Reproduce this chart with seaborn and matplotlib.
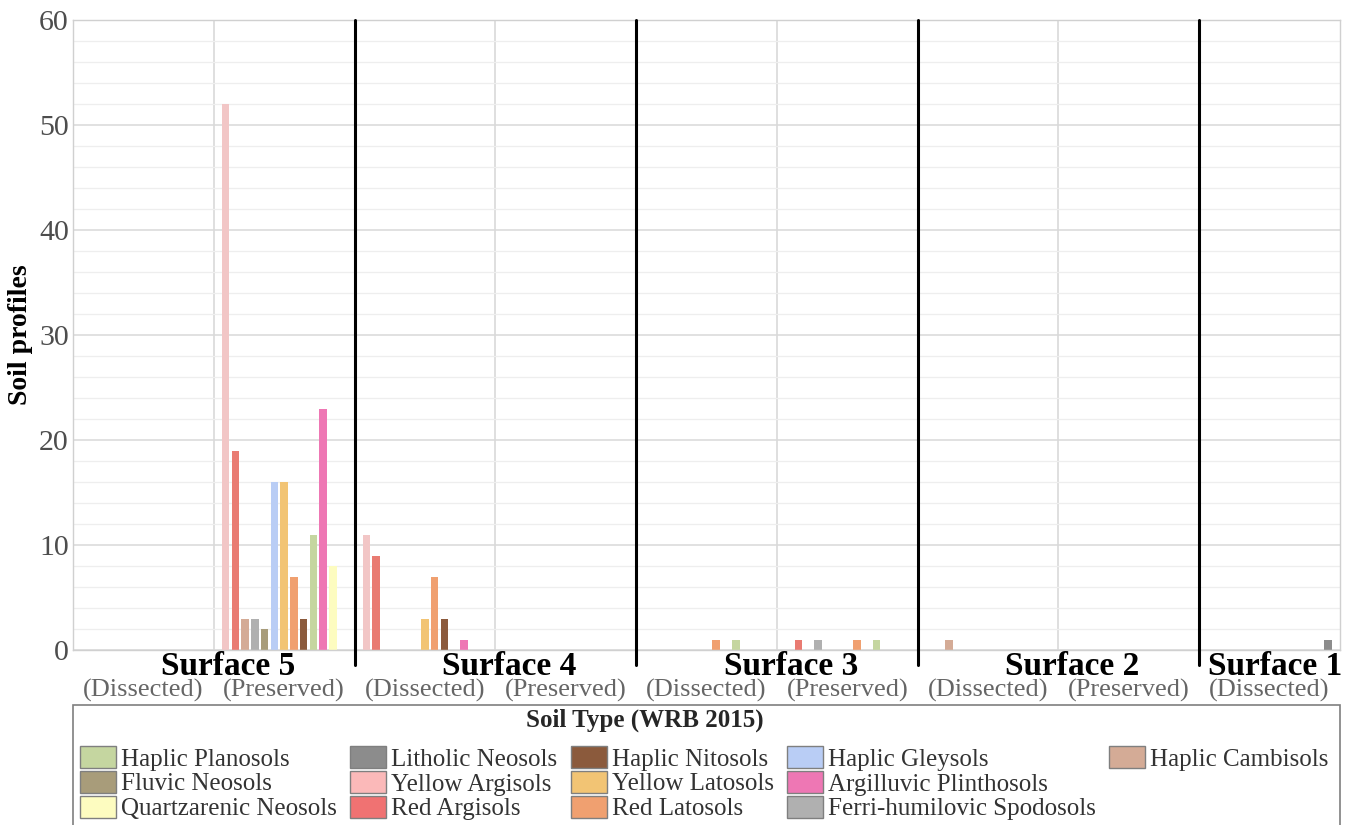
import matplotlib
matplotlib.use("Agg")
import matplotlib.pyplot as plt
from matplotlib.patches import Patch, Rectangle
from matplotlib.transforms import blended_transform_factory
import pandas as pd
import seaborn as sns

# x positions: landscape surface and its condition
surfaces = ["Surface 5", "Surface 5", "Surface 4", "Surface 4", "Surface 3",
            "Surface 3", "Surface 2", "Surface 2", "Surface 1"]
conditions = ["(Dissected)", "(Preserved)", "(Dissected)", "(Preserved)", "(Dissected)",
              "(Preserved)", "(Dissected)", "(Preserved)", "(Dissected)"]

# soil classes, in bar order within each position
soil_types = ["Yellow Argisols", "Red Argisols", "Haplic Cambisols", "Ferri-humilovic Spodosols",
              "Fluvic Neosols", "Haplic Gleysols", "Yellow Latosols", "Red Latosols",
              "Haplic Nitosols", "Haplic Planosols", "Argilluvic Plinthosols",
              "Quartzarenic Neosols", "Litholic Neosols"]
soil_colors = ["#f2c6c6", "#e97b72", "#d4ab96", "#b0b0b0",
               "#a89c7a", "#b9cdf5", "#f2c474", "#f0a070",
               "#8b5a3c", "#c5d6a0", "#ee77b4",
               "#fdfcc0", "#8c8c8c"]

# number of soil profiles per class (same order as soil_types)
s5_dissected = [0, 0, 0, 0, 0, 0, 0, 0, 0, 0, 0, 0, 0]
s5_preserved = [52, 19, 3, 3, 2, 16, 16, 7, 3, 11, 23, 8, 0]
s4_dissected = [11, 9, 0, 0, 0, 0, 3, 7, 3, 0, 1, 0, 0]
s4_preserved = [0, 0, 0, 0, 0, 0, 0, 0, 0, 0, 0, 0, 0]
s3_dissected = [0, 0, 0, 0, 0, 0, 0, 1, 0, 1, 0, 0, 0]
s3_preserved = [0, 1, 0, 1, 0, 0, 0, 1, 0, 1, 0, 0, 0]
s2_dissected = [0, 0, 1, 0, 0, 0, 0, 0, 0, 0, 0, 0, 0]
s2_preserved = [0, 0, 0, 0, 0, 0, 0, 0, 0, 0, 0, 0, 0]
s1_dissected = [0, 0, 0, 0, 0, 0, 0, 0, 0, 0, 0, 0, 1]

# legend entries, filled column by column
legend_order = ["Haplic Planosols", "Fluvic Neosols", "Quartzarenic Neosols",
                "Litholic Neosols", "Yellow Argisols", "Red Argisols",
                "Haplic Nitosols", "Yellow Latosols", "Red Latosols",
                "Haplic Gleysols", "Argilluvic Plinthosols", "Ferri-humilovic Spodosols",
                "Haplic Cambisols"]
legend_colors = {"Yellow Argisols": "#fbb9b9", "Red Argisols": "#f07272"}

positions = [f"{s} {c}" for s, c in zip(surfaces, conditions)]
counts = [s5_dissected, s5_preserved, s4_dissected, s4_preserved, s3_dissected,
          s3_preserved, s2_dissected, s2_preserved, s1_dissected]

rows = []
for pos, vals in zip(positions, counts):
    for soil, v in zip(soil_types, vals):
        rows.append({"position": pos, "soil": soil, "profiles": v})
df = pd.DataFrame(rows)

sns.set_style("white")
plt.rcParams["font.family"] = ["Liberation Serif", "DejaVu Serif"]

W, H = 1349, 825
fig = plt.figure(figsize=(W / 100, H / 100), dpi=100)
ax = fig.add_axes([73 / W, 1 - 650 / H, (1340 - 73) / W, (650 - 20) / H])

sns.barplot(data=df, x="position", y="profiles", hue="soil", order=positions,
            hue_order=soil_types, palette=dict(zip(soil_types, soil_colors)),
            saturation=1, width=0.9, gap=0.22, linewidth=0, errorbar=None,
            legend=False, ax=ax)

ax.set_xlim(-0.5, len(positions) - 0.5)
ax.set_ylim(0, 60)
ax.set_yticks(range(0, 61, 10))
ax.set_yticks(range(0, 61, 2), minor=True)
ax.yaxis.grid(True, which="major", color="#d9d9d9", linewidth=1.1)
ax.yaxis.grid(True, which="minor", color="#eeeeee", linewidth=0.9)
ax.xaxis.grid(False)
ax.set_axisbelow(True)
ax.tick_params(axis="y", which="both", length=0, pad=3, labelsize=21.5, labelcolor="#4d4d4d")
ax.tick_params(axis="x", which="both", length=0)
for sp in ax.spines.values():
    sp.set_color("#d0d0d0")
    sp.set_linewidth(1)

# thin lines between conditions, black lines between surfaces
for x in [0.5, 2.5, 4.5, 6.5]:
    ax.axvline(x, color="#d6d6d6", linewidth=1.1, zorder=0)
trans = blended_transform_factory(ax.transData, ax.transAxes)
for x in [1.5, 3.5, 5.5, 7.5]:
    ax.plot([x, x], [-0.024, 1.0], color="black", linewidth=2.2, transform=trans,
            clip_on=False, zorder=5)

# x labels: surface name (bold) and condition below
ax.set_xticks(range(len(positions)))
ax.set_xticklabels([])
ax.set_xlabel("")
group_centers = {}
for i, s in enumerate(surfaces):
    group_centers.setdefault(s, []).append(i)
for s, idx in group_centers.items():
    shift = 14 if len(idx) > 1 else 6
    ax.annotate(s, xy=(sum(idx) / len(idx), 0), xycoords=trans, xytext=(shift, -25),
                textcoords="offset pixels", ha="center", va="baseline",
                fontsize=24, fontweight="bold", color="black")
for i, c in enumerate(conditions):
    ax.annotate(c, xy=(i, 0), xycoords=trans, xytext=(0, -47),
                textcoords="offset pixels", ha="center", va="baseline",
                fontsize=19, color="#666666")

ax.set_ylabel("Soil profiles", fontsize=20, fontweight="bold", color="black")
ax.yaxis.set_label_coords(-40 / 1267, 0.5)

# legend box
fig.patches.append(Rectangle((73 / W, -0.05), (1340 - 73) / W, 1 - 705 / H + 0.05,
                             transform=fig.transFigure, facecolor="white",
                             edgecolor="#7f7f7f", linewidth=1.2))
fig.text(645 / W, 1 - 720 / H, "Soil Type (WRB 2015)", ha="center", va="center",
         fontsize=18, fontweight="bold")
color_of = dict(zip(soil_types, soil_colors))
color_of.update(legend_colors)
handles = [Patch(facecolor=color_of[s], edgecolor="#7f7f7f", linewidth=1, label=s)
           for s in legend_order]
labels = list(legend_order)
handles += [Patch(visible=False), Patch(visible=False)]
labels += ["", ""]
fig.legend(handles, labels, loc="upper left", bbox_to_anchor=(80 / W, 1 - 746 / H),
           bbox_transform=fig.transFigure, ncol=5, frameon=False, fontsize=18,
           handlelength=1.45, handleheight=1.0, handletextpad=0.2, columnspacing=0.52,
           labelspacing=0.0, borderpad=0, borderaxespad=0, labelcolor="#333333")

fig.savefig("out.png", dpi=100, facecolor="white")
